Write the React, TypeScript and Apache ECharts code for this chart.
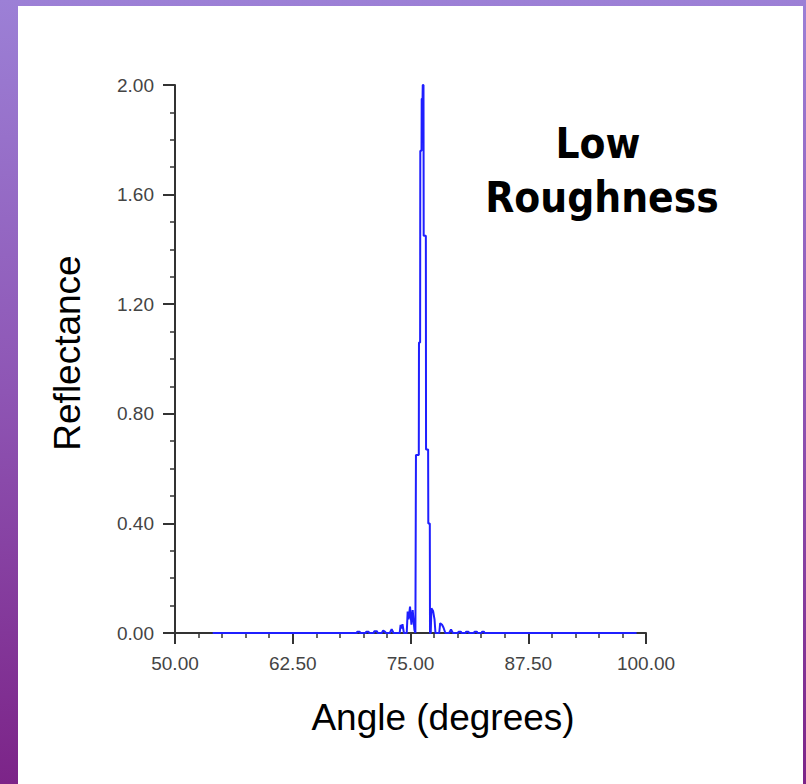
import React, { useEffect, useRef } from "react";
import * as echarts from "echarts";

// Angle (degrees) sample vertices
const angles = [
  54.0, 69.3, 69.35, 69.6, 69.65, 70.25, 70.3, 70.55, 70.6, 71.1, 71.15, 71.45, 71.5,
  71.95, 72.1, 72.3, 72.4, 72.8, 73.0, 73.2, 73.85, 73.95, 74.05, 74.15, 74.3,
  74.6, 74.7, 74.8, 74.95, 75.1, 75.23, 75.42, 75.52,
  75.58, 75.88, 75.9, 76.02, 76.04, 76.17, 76.19, 76.28, 76.3, 76.38, 76.4, 76.63, 76.65,
  76.87, 76.89, 77.05, 77.07,
  77.15, 77.22, 77.4, 77.55, 77.65, 78.05, 78.15, 78.35, 78.5, 78.7, 79.1, 79.3, 79.5,
  80.05, 80.1, 80.35, 80.4, 80.85, 80.9, 81.15, 81.2, 81.75, 81.8, 82.05, 82.1,
  82.55, 82.6, 82.8, 82.85, 99.0,
];
// Reflectance at each vertex
const reflectance = [
  0, 0, 0.005, 0.005, 0, 0, 0.005, 0.005, 0, 0, 0.006, 0.006, 0,
  0, 0.009, 0.004, 0, 0, 0.014, 0, 0, 0.03, 0.016, 0.032, 0,
  0, 0.078, 0.05, 0.096, 0.03, 0.084, 0.01, 0,
  0.65, 0.65, 1.06, 1.06, 1.76, 1.76, 1.95, 1.95, 2.0, 2.0, 1.45, 1.45, 0.67,
  0.67, 0.4, 0.4, 0,
  0, 0.09, 0.08, 0.05, 0, 0, 0.036, 0.03, 0.02, 0, 0, 0.013, 0,
  0, 0.005, 0.005, 0, 0, 0.005, 0.005, 0, 0, 0.005, 0.005, 0,
  0, 0.005, 0.005, 0, 0,
];

const xTitle = "Angle (degrees)";
const yTitle = "Reflectance";
const noteLines = ["Low", "Roughness"];

export default function App() {
  const ref = useRef<HTMLDivElement>(null);
  useEffect(() => {
    document.body.style.margin = "0";
    const chart = echarts.init(ref.current!, null, { renderer: "svg" });
    const data = angles.map((a, i) => [a, reflectance[i]]);
    const axisCol = "#333";
    const labelStyle = {
      fontFamily: "Liberation Sans",
      fontSize: 19,
      color: "#444",
      formatter: (v: number) => v.toFixed(2),
    };
    chart.setOption({
      animation: false,
      backgroundColor: "transparent",
      grid: { left: 175, top: 85, width: 471, height: 548, containLabel: false },
      xAxis: {
        type: "value",
        min: 50,
        max: 100,
        interval: 12.5,
        axisLine: { show: true, onZero: false, lineStyle: { color: axisCol, width: 2 } },
        axisTick: { show: true, length: 11, lineStyle: { color: axisCol, width: 2 } },
        minorTick: { show: true, splitNumber: 5, length: 5, lineStyle: { color: axisCol, width: 1.5 } },
        splitLine: { show: false },
        minorSplitLine: { show: false },
        axisLabel: { ...labelStyle, margin: 21 },
      },
      yAxis: {
        type: "value",
        min: 0,
        max: 2,
        interval: 0.4,
        axisLine: { show: true, onZero: false, lineStyle: { color: axisCol, width: 2 } },
        axisTick: { show: true, length: 12, lineStyle: { color: axisCol, width: 2 } },
        minorTick: { show: true, splitNumber: 4, length: 5, lineStyle: { color: axisCol, width: 1.5 } },
        splitLine: { show: false },
        minorSplitLine: { show: false },
        axisLabel: { ...labelStyle, margin: 21 },
      },
      series: [
        {
          type: "line",
          data,
          showSymbol: false,
          symbol: "none",
          lineStyle: { color: "#1f1fff", width: 2 },
          clip: true,
        },
      ],
      graphic: [
        {
          type: "text",
          x: 67,
          y: 353,
          rotation: Math.PI / 2,
          style: {
            text: yTitle,
            fontFamily: "Liberation Sans",
            fontSize: 37,
            fill: "#000",
            align: "center",
            verticalAlign: "middle",
          },
        },
        {
          type: "text",
          x: 443,
          y: 717,
          style: {
            text: xTitle,
            fontFamily: "Liberation Sans",
            fontSize: 37,
            fill: "#000",
            align: "center",
            verticalAlign: "middle",
          },
        },
        {
          type: "text",
          x: 598,
          y: 143,
          style: {
            text: noteLines[0],
            fontFamily: "DejaVu Sans Condensed, DejaVu Sans",
            fontWeight: "bold",
            fontSize: 42,
            fill: "#000",
            align: "center",
            verticalAlign: "middle",
          },
        },
        {
          type: "text",
          x: 602,
          y: 197,
          style: {
            text: noteLines[1],
            fontFamily: "DejaVu Sans Condensed, DejaVu Sans",
            fontWeight: "bold",
            fontSize: 42,
            fill: "#000",
            align: "center",
            verticalAlign: "middle",
          },
        },
      ],
    });
    return () => chart.dispose();
  }, []);
  return (
    <div
      style={{
        position: "relative",
        width: 806,
        height: 784,
        background: "linear-gradient(180deg, #9c80d6 0%, #8e55b4 50%, #7c2488 100%)",
        overflow: "hidden",
      }}
    >
      <div style={{ position: "absolute", left: 18, top: 6, width: 785, height: 778, background: "#fff" }} />
      <div ref={ref} style={{ position: "absolute", left: 0, top: 0, width: 806, height: 784 }} />
    </div>
  );
}
